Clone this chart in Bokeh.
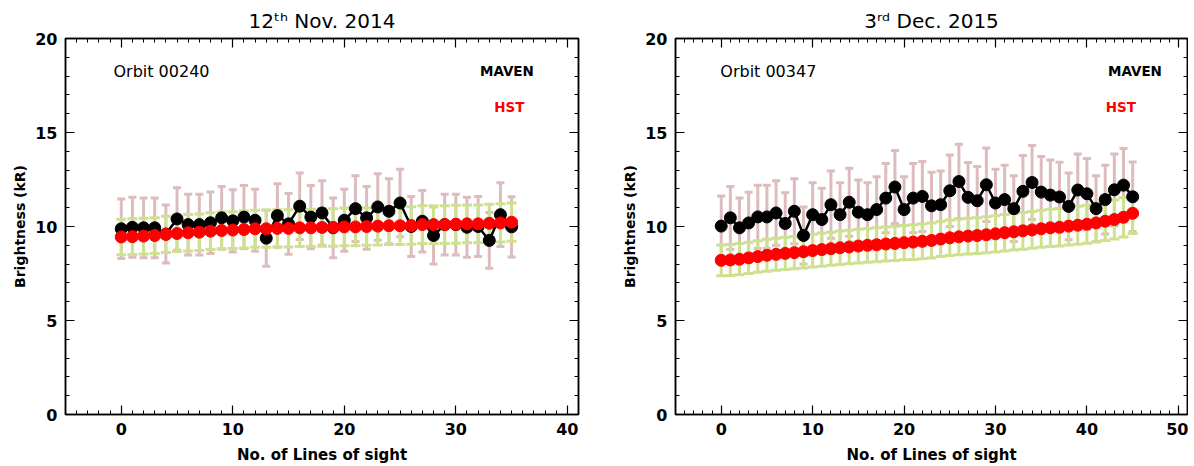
from bokeh.plotting import figure
from bokeh.layouts import row
from bokeh.models import (Range1d, SingleIntervalTicker, LinearAxis, Label,
                          Whisker, ColumnDataSource, TeeHead)
from bokeh.embed import file_html
from bokeh.resources import INLINE

# ---------------- data: 12th Nov. 2014, orbit 00240 ----------------
nov_los = list(range(36))
nov_maven = [9.88, 9.96, 9.93, 9.93, 9.60, 10.40, 10.10, 10.10, 10.20, 10.46,
             10.30, 10.50, 10.33, 9.38, 10.58, 10.14, 11.08, 10.50, 10.72, 9.93,
             10.33, 10.95, 10.46, 11.04, 10.81, 11.25, 10.00, 10.28, 9.52, 10.10,
             10.10, 9.96, 10.00, 9.26, 10.63, 9.98]
nov_maven_err = [1.58, 1.59, 1.59, 1.59, 1.54, 1.66, 1.62, 1.62, 1.63, 1.67,
                 1.65, 1.68, 1.65, 1.50, 1.69, 1.62, 1.77, 1.68, 1.72, 1.59,
                 1.65, 1.75, 1.67, 1.77, 1.73, 1.80, 1.60, 1.64, 1.52, 1.62,
                 1.62, 1.59, 1.60, 1.48, 1.70, 1.60]
nov_hst = [9.44, 9.46, 9.49, 9.52, 9.58, 9.63, 9.67, 9.70, 9.75, 9.79,
           9.81, 9.84, 9.88, 9.88, 9.90, 9.90, 9.93, 9.93, 9.95, 9.95,
           9.98, 9.98, 10.00, 10.02, 10.04, 10.04, 10.05, 10.10, 10.10, 10.10,
           10.12, 10.14, 10.14, 10.17, 10.19, 10.23]
nov_hst_err = [0.94, 0.95, 0.95, 0.95, 0.96, 0.96, 0.97, 0.97, 0.98, 0.98,
               0.98, 0.98, 0.99, 0.99, 0.99, 0.99, 0.99, 0.99, 1.00, 1.00,
               1.00, 1.00, 1.00, 1.00, 1.00, 1.00, 1.00, 1.01, 1.01, 1.01,
               1.01, 1.01, 1.01, 1.02, 1.02, 1.02]

# ---------------- data: 3rd Dec. 2015, orbit 00347 ----------------
dec_los = list(range(46))
dec_maven = [10.02, 10.46, 9.93, 10.19, 10.51, 10.51, 10.72, 10.16, 10.81, 9.52,
             10.63, 10.37, 11.16, 10.63, 11.29, 10.76, 10.63, 10.90, 11.51, 12.10,
             10.90, 11.51, 11.60, 11.10, 11.16, 11.90, 12.39, 11.55, 11.37, 12.22,
             11.25, 11.43, 10.95, 11.87, 12.34, 11.83, 11.67, 11.57, 11.07, 11.94,
             11.74, 10.95, 11.43, 11.95, 12.20, 11.58]
dec_maven_err = [1.60, 1.67, 1.59, 1.63, 1.68, 1.68, 1.72, 1.63, 1.73, 1.52,
                 1.70, 1.66, 1.79, 1.70, 1.81, 1.72, 1.70, 1.74, 1.84, 1.94,
                 1.74, 1.84, 1.86, 1.78, 1.79, 1.90, 1.98, 1.85, 1.82, 1.96,
                 1.80, 1.83, 1.75, 1.90, 1.97, 1.89, 1.87, 1.85, 1.77, 1.91,
                 1.88, 1.75, 1.83, 1.91, 1.95, 1.85]
dec_hst = [8.20, 8.22, 8.26, 8.33, 8.40, 8.47, 8.52, 8.57, 8.61, 8.66,
           8.72, 8.77, 8.82, 8.87, 8.91, 8.96, 9.00, 9.03, 9.07, 9.10,
           9.14, 9.17, 9.21, 9.26, 9.33, 9.40, 9.45, 9.49, 9.52, 9.56,
           9.61, 9.67, 9.72, 9.77, 9.82, 9.88, 9.93, 9.96, 10.02, 10.07,
           10.12, 10.19, 10.28, 10.37, 10.49, 10.70]
dec_hst_err = [0.82, 0.82, 0.83, 0.83, 0.84, 0.85, 0.85, 0.86, 0.86, 0.87,
               0.87, 0.88, 0.88, 0.89, 0.89, 0.90, 0.90, 0.90, 0.91, 0.91,
               0.91, 0.92, 0.92, 0.93, 0.93, 0.94, 0.95, 0.95, 0.95, 0.96,
               0.96, 0.97, 0.97, 0.98, 0.98, 0.99, 0.99, 1.00, 1.00, 1.01,
               1.01, 1.02, 1.03, 1.04, 1.05, 1.07]

PINK = "#ddbcbe"
GREEN = "#cde191"
FONT = "DejaVu Sans"


def style_axis(ax, show_labels):
    ax.axis_line_color = "black"
    ax.axis_line_width = 1.5
    ax.major_tick_in = 9
    ax.major_tick_out = 0
    ax.minor_tick_in = 4
    ax.minor_tick_out = 0
    ax.major_tick_line_color = "black"
    ax.minor_tick_line_color = "black"
    ax.major_tick_line_width = 1.2
    ax.minor_tick_line_width = 1.0
    ax.major_label_text_font = FONT
    ax.major_label_text_font_style = "bold"
    ax.major_label_text_font_size = "16px"
    ax.major_label_text_color = "black"
    ax.axis_label_text_font = FONT
    ax.axis_label_text_font_style = "bold"
    ax.axis_label_text_font_size = "15px"
    ax.axis_label_text_color = "black"
    if not show_labels:
        ax.major_label_text_color = None
        ax.major_label_text_font_size = "1px"
        ax.major_label_standoff = 0


def make_panel(title, orbit, x, maven, maven_err, hst, hst_err, xend,
               frame_w, mb_left, mb_right, orbit_xy, maven_xy, hst_xy):
    p = figure(output_backend="svg", toolbar_location=None,
               frame_width=frame_w, frame_height=376,
               min_border_left=mb_left, min_border_right=mb_right,
               min_border_top=38, min_border_bottom=48,
               x_range=Range1d(-5, xend), y_range=Range1d(0, 20),
               x_axis_label="No. of Lines of sight",
               y_axis_label="Brightness (kR)", title=title)
    p.title.align = "center"
    p.title.text_font = FONT
    p.title.text_font_style = "normal"
    p.title.text_font_size = "20px"
    p.title.text_color = "black"
    p.title.offset = 0
    p.title.standoff = 11
    p.xgrid.visible = False
    p.ygrid.visible = False
    p.outline_line_color = "black"
    p.outline_line_width = 1.5
    p.background_fill_color = "white"
    p.border_fill_color = "white"

    p.xaxis.ticker = SingleIntervalTicker(interval=10, num_minor_ticks=10)
    p.yaxis.ticker = SingleIntervalTicker(interval=5, num_minor_ticks=5)
    style_axis(p.xaxis[0], True)
    style_axis(p.yaxis[0], True)
    p.yaxis.axis_label_text_font_size = "14px"
    p.xaxis.major_label_standoff = 8
    p.yaxis.major_label_standoff = 8
    p.xaxis.axis_label_standoff = 8
    p.yaxis.axis_label_standoff = 4

    top = LinearAxis(ticker=SingleIntervalTicker(interval=10, num_minor_ticks=10))
    style_axis(top, False)
    p.add_layout(top, "above")
    right = LinearAxis(ticker=SingleIntervalTicker(interval=5, num_minor_ticks=5))
    style_axis(right, False)
    p.add_layout(right, "right")

    src = ColumnDataSource(dict(
        x=x, maven=maven, hst=hst,
        m_lo=[v - e for v, e in zip(maven, maven_err)],
        m_hi=[v + e for v, e in zip(maven, maven_err)],
        h_lo=[v - e for v, e in zip(hst, hst_err)],
        h_hi=[v + e for v, e in zip(hst, hst_err)],
    ))

    w1 = Whisker(source=src, base="x", lower="m_lo", upper="m_hi",
                 line_color=PINK, line_width=3,
                 upper_head=TeeHead(size=8, line_color=PINK, line_width=3),
                 lower_head=TeeHead(size=8, line_color=PINK, line_width=3))
    p.add_layout(w1)
    w2 = Whisker(source=src, base="x", lower="h_lo", upper="h_hi",
                 line_color=GREEN, line_width=3,
                 upper_head=TeeHead(size=10, line_color=GREEN, line_width=3),
                 lower_head=TeeHead(size=10, line_color=GREEN, line_width=3))
    p.add_layout(w2)

    p.line("x", "maven", source=src, line_color="black", line_width=2.5)
    p.scatter("x", "maven", source=src, size=12, fill_color="black",
              line_color="black")
    p.scatter("x", "hst", source=src, size=12, fill_color="#ff0000",
              line_color="#ff0000")

    p.add_layout(Label(x=orbit_xy[0], y=orbit_xy[1], text=orbit,
                       text_font=FONT, text_font_size="16px",
                       text_align="left", text_baseline="middle",
                       text_color="black"))
    p.add_layout(Label(x=maven_xy[0], y=maven_xy[1], text="MAVEN",
                       text_font=FONT, text_font_size="13.5px",
                       text_font_style="bold",
                       text_align="right", text_baseline="middle",
                       text_color="black"))
    p.add_layout(Label(x=hst_xy[0], y=hst_xy[1], text="HST",
                       text_font=FONT, text_font_size="13.5px",
                       text_font_style="bold",
                       text_align="center", text_baseline="middle",
                       text_color="#ff0000"))
    return p


p1 = make_panel("12ᵗʰ Nov. 2014", "Orbit 00240", nov_los, nov_maven,
                nov_maven_err, nov_hst, nov_hst_err, 41,
                513, 65, 30, (-0.7, 18.25), (37.0, 18.25), (34.8, 16.35))
p2 = make_panel("3ʳᵈ Dec. 2015", "Orbit 00347", dec_los, dec_maven,
                dec_maven_err, dec_hst, dec_hst_err, 51,
                512, 67, 1, (-0.1, 18.25), (48.2, 18.25), (43.7, 16.35))

layout = row(p1, p2)
open("out.html", "w").write(file_html(layout, INLINE))
